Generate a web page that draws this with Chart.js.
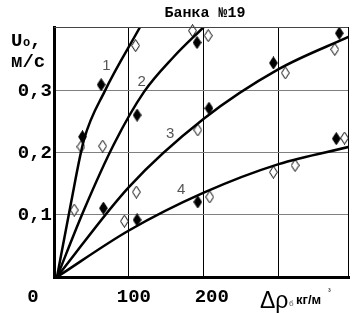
<!DOCTYPE html>
<html><head><meta charset="utf-8">
<script src="https://cdn.jsdelivr.net/npm/chart.js@4/dist/chart.umd.min.js"></script>
<style>html,body{margin:0;padding:0;background:#fff;}#wrap{width:357px;height:313px;position:relative;}</style>
</head><body><div id="wrap"><canvas id="c" width="357" height="313"></canvas></div>
<script>
// ---- data ----
const titleText = "Банка №19";
const yTickValues = [0, 0.1, 0.2, 0.3];
const xTickValues = [0, 100, 200, 300];
const xTickLabels = ["0", "100", "200", ""];

const curve1X = [4, 22, 40, 68, 115];
const curve1Y = [0, 0.115, 0.221, 0.3, 0.403];
const curve2X = [4, 40, 80, 120, 160, 200];
const curve2Y = [0, 0.108, 0.214, 0.298, 0.355, 0.403];
const curve3X = [4, 100, 200, 300, 395];
const curve3Y = [0, 0.145, 0.255, 0.335, 0.388];
const curve4X = [4, 100, 200, 300, 395];
const curve4Y = [0, 0.075, 0.136, 0.182, 0.21];
const curveLabels = ["1", "2", "3", "4"];
const curveLabelX = [70, 117, 155, 170];
const curveLabelY = [0.34, 0.315, 0.23, 0.14];

const filledX = [38, 63, 111, 191, 207, 293, 381, 377, 66, 111, 192];
const filledY = [0.226, 0.31, 0.261, 0.378, 0.272, 0.345, 0.393, 0.223, 0.111, 0.092, 0.121];
const openX = [109, 36, 65, 185, 206, 192, 309, 375, 388, 27, 110, 94, 208, 293, 322];
const openY = [0.373, 0.21, 0.211, 0.397, 0.389, 0.237, 0.329, 0.367, 0.224, 0.108, 0.137, 0.090, 0.129, 0.169, 0.18];

// ---- helpers ----
function pts(xs, ys) { return xs.map((x, i) => ({x: x, y: ys[i]})); }
function diamond(fill) {
  const c = document.createElement('canvas');
  c.width = 9; c.height = 13;
  const g = c.getContext('2d');
  g.beginPath();
  g.moveTo(4.5, 0.5); g.lineTo(8.4, 6.5); g.lineTo(4.5, 12.5); g.lineTo(0.6, 6.5); g.closePath();
  g.fillStyle = fill ? '#000' : '#fff';
  g.fill();
  g.lineWidth = 1; g.strokeStyle = '#000'; g.stroke();
  return c;
}
const curveStyle = {showLine: true, borderColor: '#000', borderWidth: 2.5, pointRadius: 0, cubicInterpolationMode: 'monotone', fill: false};
const MONO = '"Liberation Mono", "Courier New", monospace';
const SANS = '"Liberation Sans", Arial, sans-serif';

const textPlugin = {
  id: 'texts',
  afterDraw(chart) {
    const ctx = chart.ctx, a = chart.chartArea;
    const xs = chart.scales.x, ys = chart.scales.y;
    ctx.save();
    // top and right frame
    ctx.lineWidth = 1;
    ctx.strokeStyle = '#444';
    ctx.beginPath(); ctx.moveTo(a.left, a.top + 0.5); ctx.lineTo(a.right, a.top + 0.5); ctx.stroke();
    ctx.strokeStyle = '#000';
    ctx.beginPath(); ctx.moveTo(a.right - 0.5, a.top); ctx.lineTo(a.right - 0.5, a.bottom); ctx.stroke();
    ctx.fillStyle = '#000';
    // title
    ctx.font = 'bold 15px ' + MONO;
    ctx.textAlign = 'center'; ctx.textBaseline = 'alphabetic';
    ctx.fillText(titleText, 205, 17);
    // y axis title
    ctx.textAlign = 'left';
    ctx.font = 'bold 19px ' + MONO;
    ctx.fillText('U', 11, 46);
    ctx.font = 'bold 12px ' + MONO;
    ctx.fillText('o', 23, 46);
    ctx.font = 'bold 19px ' + MONO;
    ctx.fillText(',', 30, 46);
    ctx.fillText('м/с', 11, 67);
    // x tick labels
    ctx.textAlign = 'center';
    const offs = [-21, 5, 8, 0];
    xTickValues.forEach((v, i) => {
      if (!xTickLabels[i]) return;
      ctx.fillText(xTickLabels[i], xs.getPixelForValue(v) + offs[i], 302);
    });
    // x axis title
    ctx.textAlign = 'left';
    ctx.font = '23px ' + SANS;
    ctx.fillText('Δρ', 260, 308);
    ctx.font = '8px ' + SANS;
    ctx.fillStyle = '#555';
    ctx.fillText('б', 289, 306);
    ctx.fillStyle = '#000';
    ctx.font = 'bold 13px ' + SANS;
    ctx.fillText('кг/м', 296, 304);
    ctx.font = '8px ' + SANS;
    ctx.fillText('³', 328, 294);
    // curve labels
    ctx.font = '15px ' + SANS;
    ctx.fillStyle = '#555';
    ctx.textAlign = 'center'; ctx.textBaseline = 'middle';
    curveLabels.forEach((t, i) => {
      ctx.fillText(t, xs.getPixelForValue(curveLabelX[i]), ys.getPixelForValue(curveLabelY[i]));
    });
    ctx.restore();
  }
};

new Chart(document.getElementById('c'), {
  type: 'scatter',
  data: {
    datasets: [
      Object.assign({data: pts(curve1X, curve1Y)}, curveStyle),
      Object.assign({data: pts(curve2X, curve2Y)}, curveStyle),
      Object.assign({data: pts(curve3X, curve3Y)}, curveStyle),
      Object.assign({data: pts(curve4X, curve4Y)}, curveStyle),
      {data: pts(filledX, filledY), pointStyle: diamond(true), pointRadius: 5, showLine: false, clip: false},
      {data: pts(openX, openY), pointStyle: diamond(false), pointRadius: 5, showLine: false, clip: false}
    ]
  },
  options: {
    responsive: false,
    animation: false,
    events: [],
    layout: {padding: {top: 27, right: 8, left: 0, bottom: 0}},
    plugins: {legend: {display: false}, tooltip: {enabled: false}, title: {display: false}},
    scales: {
      x: {
        type: 'linear', min: 0, max: 394,
        afterBuildTicks: s => { s.ticks = xTickValues.map(v => ({value: v})); },
        afterFit: s => { s.height = 36; },
        ticks: {display: false},
        grid: {drawTicks: false, lineWidth: 1, color: c => (c.tick && c.tick.value === 0) ? 'rgba(0,0,0,0)' : '#000'},
        border: {display: true, width: 3, color: '#000'}
      },
      y: {
        type: 'linear', min: 0, max: 0.403,
        afterBuildTicks: s => { s.ticks = yTickValues.map(v => ({value: v})); },
        afterFit: s => { s.width = 54; },
        ticks: {
          padding: 2, color: '#000',
          font: {family: MONO, size: 19, weight: 'bold'},
          callback: v => v === 0 ? '' : v.toFixed(1).replace('.', ',')
        },
        grid: {drawTicks: false, lineWidth: 1, color: c => (c.tick && c.tick.value === 0) ? 'rgba(0,0,0,0)' : '#808080'},
        border: {display: true, width: 3, color: '#000'}
      }
    }
  },
  plugins: [textPlugin]
});
</script>
</body></html>
